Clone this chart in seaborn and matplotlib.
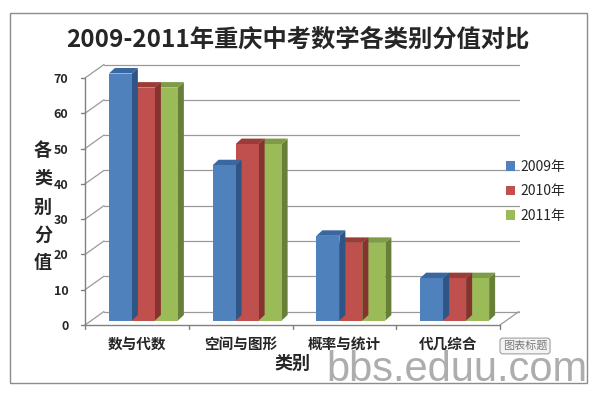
import matplotlib
matplotlib.use("Agg")
import matplotlib.pyplot as plt
import matplotlib.patches as mpatches
from matplotlib.lines import Line2D
import seaborn as sns
import pandas as pd

categories = ["数与代数", "空间与图形", "概率与统计", "代几综合"]
series = ["2009年", "2010年", "2011年"]
values_2009 = [70, 44, 24, 12]
values_2010 = [66, 50, 22, 12]
values_2011 = [66, 50, 22, 12]
yticks = [0, 10, 20, 30, 40, 50, 60, 70]

front_colors = ["#4F81BD", "#C0504D", "#9BBB59"]
top_colors = ["#3A67A0", "#9C3C39", "#7E9B47"]
side_colors = ["#2F5585", "#863330", "#687F3A"]

sns.set_theme(style="white")
plt.rcParams["font.family"] = ["Noto Sans CJK SC", "DejaVu Sans"]

rows = []
for s, vals in zip(series, [values_2009, values_2010, values_2011]):
    for c, v in zip(categories, vals):
        rows.append({"类别": c, "年份": s, "分值": v})
df = pd.DataFrame(rows)

W, H = 598, 398
fig = plt.figure(figsize=(W / 100, H / 100), dpi=100)
fig.patch.set_facecolor("white")
ax = fig.add_axes([85 / W, (H - 325) / H, 415 / W, 247 / H])

sns.barplot(data=df, x="类别", y="分值", hue="年份", order=categories,
            hue_order=series, palette=front_colors, saturation=1,
            width=0.665, ax=ax, legend=False, edgecolor="none", linewidth=0)
ax.set_xlim(-0.5, 3.5)
ax.set_ylim(0, 70)
ax.set_facecolor("none")
for sp in ax.spines.values():
    sp.set_visible(False)
ax.set_xlabel("")
ax.set_ylabel("")

# pixel offsets (display px, y up)
WALL_DX, WALL_DY = 19, 13.5
BAR_DX, BAR_DY = 6.5, 4.5
DEP_DX, DEP_DY = 6, 5.5

fig.canvas.draw()
to_fig = fig.transFigure.inverted()


def pt(xd, yd, ox=0.0, oy=0.0):
    d = ax.transData.transform((xd, yd))
    return to_fig.transform((d[0] + ox, d[1] + oy))


grid_c = "#9A9A9A"
axis_c = "#808080"


def fline(p0, p1, color=grid_c, lw=0.9, z=0.5):
    fig.add_artist(Line2D([p0[0], p1[0]], [p0[1], p1[1]], color=color, lw=lw,
                          transform=fig.transFigure, zorder=z))


x0, x1 = ax.get_xlim()
# back wall gridlines and floor-side diagonals
for y in yticks:
    fline(pt(x0, y, WALL_DX, WALL_DY), pt(x1, y, WALL_DX, WALL_DY))
    fline(pt(x0, y), pt(x0, y, WALL_DX, WALL_DY))
fline(pt(x1, 0), pt(x1, 0, WALL_DX, WALL_DY))
# front axes
fline(pt(x0, 0), pt(x1, 0), color=axis_c, lw=1.0, z=3)
fline(pt(x0, 0), pt(x0, 70), color=axis_c, lw=1.0, z=3)
for y in yticks:
    fline(pt(x0, y, -4, 0), pt(x0, y), color=axis_c, lw=1.0, z=3)
for xb in [-0.5, 0.5, 1.5, 2.5, 3.5]:
    fline(pt(xb, 0, 0, -4), pt(xb, 0), color=axis_c, lw=1.0, z=3)

# 3D bars
bars = list(ax.patches)
for i, p in enumerate(bars):
    k = i // len(categories)
    bx, by = p.get_x(), p.get_y()
    bw, bh = p.get_width(), p.get_height()
    p.set_visible(False)
    a = pt(bx, by, BAR_DX, BAR_DY)
    b = pt(bx + bw, by, BAR_DX, BAR_DY)
    c = pt(bx + bw, by + bh, BAR_DX, BAR_DY)
    d = pt(bx, by + bh, BAR_DX, BAR_DY)
    c2 = pt(bx + bw, by + bh, BAR_DX + DEP_DX, BAR_DY + DEP_DY)
    d2 = pt(bx, by + bh, BAR_DX + DEP_DX, BAR_DY + DEP_DY)
    b2 = pt(bx + bw, by, BAR_DX + DEP_DX, BAR_DY + DEP_DY)
    z = 2 + (3 - k) * 0.01
    fig.add_artist(mpatches.Polygon([b, b2, c2, c], closed=True, facecolor=side_colors[k],
                                    edgecolor="none", transform=fig.transFigure, zorder=z))
    fig.add_artist(mpatches.Polygon([d, c, c2, d2], closed=True, facecolor=top_colors[k],
                                    edgecolor="none", transform=fig.transFigure, zorder=z))
    fig.add_artist(mpatches.Polygon([a, b, c, d], closed=True, facecolor=front_colors[k],
                                    edgecolor="none", transform=fig.transFigure, zorder=z + 0.005))

# ticks
ax.set_yticks(yticks)
ax.set_yticklabels([str(v) for v in yticks], fontsize=9, fontweight="bold")
ax.tick_params(axis="y", length=0, pad=12)
ax.set_xticks(range(len(categories)))
ax.set_xticklabels(categories, fontsize=10.5, fontweight="bold")
ax.tick_params(axis="x", length=0, pad=8)

# axis labels
for ch, yy in zip("各类别分值", [150, 178, 207, 235, 263]):
    fig.text(43 / W, 1 - yy / H, ch, fontsize=13, fontweight="bold", ha="center", va="center")
fig.text(292 / W, 1 - 363 / H, "类别", fontsize=13, fontweight="bold", ha="center", va="center")

# title
fig.text(298 / W, 1 - 40 / H, "2009-2011年重庆中考数学各类别分值对比", fontsize=17.5,
         fontweight="bold", ha="center", va="center")

# legend
handles = [mpatches.Patch(facecolor=c, edgecolor="none") for c in front_colors]
fig.legend(handles, series, loc="upper left", bbox_to_anchor=(506 / W, 1 - 160 / H),
           frameon=False, fontsize=10, handlelength=0.65, handleheight=0.65,
           handletextpad=0.4, labelspacing=0.75, borderpad=0, borderaxespad=0)

# outer border
fig.add_artist(mpatches.Rectangle((10 / W, 1 - 383 / H), 577 / W, 370 / H, fill=False,
                                  edgecolor="#8C8C8C", lw=1.0, transform=fig.transFigure, zorder=0))

# button and watermark
fig.text(525 / W, 1 - 346 / H, "图表标题", fontsize=8, color="#7A7A7A", ha="center", va="center",
         bbox=dict(boxstyle="round,pad=0.25", facecolor="#F4F4F4", edgecolor="#A0A0A0", lw=0.8),
         zorder=5)
fig.text(457 / W, 1 - 370 / H, "bbs.eduu.com", fontsize=30, color="#8A8A8A", alpha=0.7,
         ha="center", va="center", family=["Liberation Sans"], zorder=6)

fig.savefig("out.png", dpi=100)
